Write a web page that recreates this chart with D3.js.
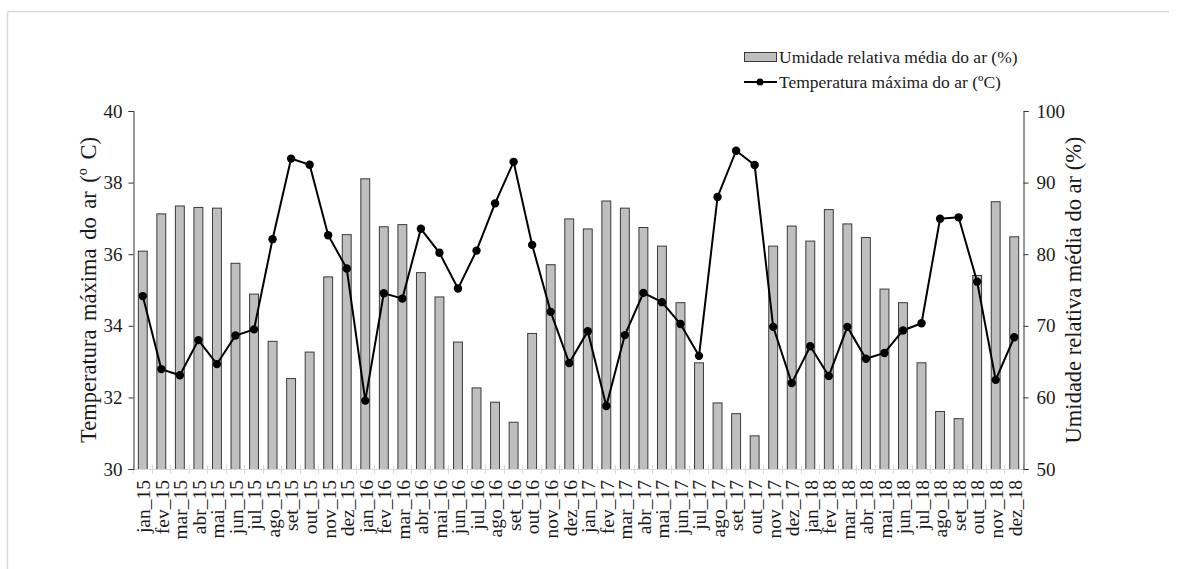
<!DOCTYPE html>
<html>
<head>
<meta charset="utf-8">
<script src="https://cdn.jsdelivr.net/npm/d3@7"></script>
<style>
  body { margin: 0; background: #fff; }
  svg { font-family: "Liberation Serif", "Times New Roman", serif; }
</style>
</head>
<body>
<svg width="1178" height="569"></svg>
<script>
// months, from jan_15 to dez_18
var months = ["jan_15","fev_15","mar_15","abr_15","mai_15","jun_15","jul_15","ago_15","set_15","out_15","nov_15","dez_15",
              "jan_16","fev_16","mar_16","abr_16","mai_16","jun_16","jul_16","ago_16","set_16","out_16","nov_16","dez_16",
              "jan_17","fev_17","mar_17","abr_17","mai_17","jun_17","jul_17","ago_17","set_17","out_17","nov_17","dez_17",
              "jan_18","fev_18","mar_18","abr_18","mai_18","jun_18","jul_18","ago_18","set_18","out_18","nov_18","dez_18"];

// relative humidity (%), right axis
var humidity = [80.5, 85.7, 86.8, 86.6, 86.5, 78.8, 74.5, 67.9, 62.7, 66.4, 76.9, 82.8,
                90.6, 83.9, 84.2, 77.5, 74.1, 67.8, 61.4, 59.4, 56.6, 69.0, 78.6, 85.0,
                83.6, 87.5, 86.5, 83.8, 81.2, 73.3, 64.9, 59.3, 57.8, 54.7, 81.2, 84.0,
                81.9, 86.3, 84.3, 82.4, 75.2, 73.3, 64.9, 58.1, 57.1, 77.1, 87.4, 82.5];

// max air temperature (C), left axis
var temperature = [34.83, 32.79, 32.62, 33.60, 32.93, 33.73, 33.90, 36.42, 38.67, 38.50, 36.53, 35.60,
                   31.91, 34.91, 34.76, 36.71, 36.04, 35.04, 36.10, 37.42, 38.58, 36.26, 34.39, 32.96,
                   33.85, 31.76, 33.74, 34.92, 34.66, 34.05, 33.16, 37.60, 38.89, 38.49, 33.97, 32.40,
                   33.43, 32.60, 33.97, 33.08, 33.24, 33.87, 34.07, 36.99, 37.03, 35.23, 32.49, 33.68];

var tempTicks = [30, 32, 34, 36, 38, 40];
var humTicks = [50, 60, 70, 80, 90, 100];

drawChart();

function drawChart() {
    var svg = d3.select("svg");

    var pLeft = 133, pRight = 1023, pTop = 111, pBottom = 469;

    // frame lines round the picture
    svg.append("line").attr("x1", 7.5).attr("x2", 1169).attr("y1", 11.5).attr("y2", 11.5)
        .attr("stroke", "#d9d9d9").attr("stroke-width", 1.5);
    svg.append("line").attr("x1", 7.5).attr("x2", 7.5).attr("y1", 11.5).attr("y2", 569)
        .attr("stroke", "#d9d9d9").attr("stroke-width", 1.5);

    var x = d3.scaleBand().domain(months).range([pLeft, pRight]).paddingInner(0.52).paddingOuter(0.26);
    var step = x.step();
    var yT = d3.scaleLinear().domain([30, 40]).range([pBottom, pTop]);
    var yH = d3.scaleLinear().domain([50, 100]).range([pBottom, pTop]);

    //draw the humidity bars
    svg.append("g")
        .selectAll("rect")
        .data(humidity)
        .enter().append("rect")
        .attr("x", function (d, i) { return x(months[i]) + 0.5; })
        .attr("y", function (d) { return yH(d) + 0.5; })
        .attr("width", x.bandwidth())
        .attr("height", function (d) { return yH(50) - yH(d); })
        .attr("fill", "#bfbfbf")
        .attr("stroke", "#3a3a3a")
        .attr("stroke-width", 1);

    // x axis: light line with ticks between months
    var xb = svg.append("g").attr("class", "xaxis");
    xb.append("line").attr("x1", pLeft).attr("x2", pRight).attr("y1", pBottom + 0.5).attr("y2", pBottom + 0.5)
        .attr("stroke", "#d9d9d9").attr("stroke-width", 1);
    xb.selectAll("line.tk")
        .data(d3.range(months.length + 1))
        .enter().append("line")
        .attr("class", "tk")
        .attr("x1", function (i) { return Math.round(pLeft + i * step) + 0.5; })
        .attr("x2", function (i) { return Math.round(pLeft + i * step) + 0.5; })
        .attr("y1", pBottom - 4).attr("y2", pBottom + 5)
        .attr("stroke", "#d9d9d9");
    xb.selectAll("text")
        .data(months)
        .enter().append("text")
        .attr("transform", function (d) { return "translate(" + (x(d) + x.bandwidth() / 2 + 1) + "," + (pBottom + 11) + ") rotate(-90)"; })
        .attr("dy", "0.35em")
        .attr("text-anchor", "end")
        .attr("font-size", 19.5)
        .attr("fill", "#1a1a1a")
        .text(function (d) { return d; });

    // left axis
    var gl = svg.append("g").attr("transform", "translate(" + (pLeft + 0.5) + ",0)")
        .call(d3.axisLeft(yT).tickValues(tempTicks).tickSize(5).tickPadding(6));
    gl.select(".domain").attr("stroke", "#333");
    gl.selectAll(".tick line").attr("stroke", "#333");
    gl.selectAll(".tick text").attr("font-size", 19).attr("font-family", "Liberation Serif").attr("fill", "#1a1a1a");

    // right axis
    var gr = svg.append("g").attr("transform", "translate(" + (pRight + 0.5) + ",0)")
        .call(d3.axisRight(yH).tickValues(humTicks).tickSize(5).tickPadding(8));
    gr.select(".domain").attr("stroke", "#333");
    gr.selectAll(".tick line").attr("stroke", "#333");
    gr.selectAll(".tick text").attr("font-size", 19).attr("font-family", "Liberation Serif").attr("fill", "#1a1a1a");

    // axis titles
    svg.append("text")
        .attr("transform", "translate(88," + ((pTop + pBottom) / 2) + ") rotate(-90)")
        .attr("text-anchor", "middle").attr("dy", "0.35em")
        .attr("font-size", 22.5).attr("word-spacing", 3).attr("fill", "#1a1a1a")
        .text("Temperatura máxima do ar (º C)");
    svg.append("text")
        .attr("transform", "translate(1073," + ((pTop + pBottom) / 2) + ") rotate(-90)")
        .attr("text-anchor", "middle").attr("dy", "0.35em")
        .attr("font-size", 22.5).attr("fill", "#1a1a1a")
        .text("Umidade relativa média do ar (%)");

    //draw the temperature line and its dots
    var line = d3.line()
        .x(function (d, i) { return x(months[i]) + x.bandwidth() / 2 + 0.5; })
        .y(function (d) { return yT(d); });
    svg.append("path")
        .datum(temperature)
        .attr("d", line)
        .attr("fill", "none")
        .attr("stroke", "#000")
        .attr("stroke-width", 2);
    svg.append("g")
        .selectAll("circle")
        .data(temperature)
        .enter().append("circle")
        .attr("cx", function (d, i) { return x(months[i]) + x.bandwidth() / 2 + 0.5; })
        .attr("cy", function (d) { return yT(d); })
        .attr("r", 4.2)
        .attr("fill", "#000");

    // legend
    var lg = svg.append("g").attr("font-size", 17.5).attr("fill", "#1a1a1a");
    lg.append("rect").attr("x", 744.5).attr("y", 52.5).attr("width", 32).attr("height", 9)
        .attr("fill", "#bfbfbf").attr("stroke", "#3a3a3a");
    lg.append("text").attr("x", 779).attr("y", 57).attr("dy", "0.35em").text("Umidade relativa média do ar (%)");
    lg.append("line").attr("x1", 744).attr("x2", 777).attr("y1", 82).attr("y2", 82)
        .attr("stroke", "#000").attr("stroke-width", 2);
    lg.append("circle").attr("cx", 760).attr("cy", 82).attr("r", 3.5).attr("fill", "#000");
    lg.append("text").attr("x", 779).attr("y", 82).attr("dy", "0.35em").text("Temperatura máxima do ar (ºC)");
}
</script>
</body>
</html>
